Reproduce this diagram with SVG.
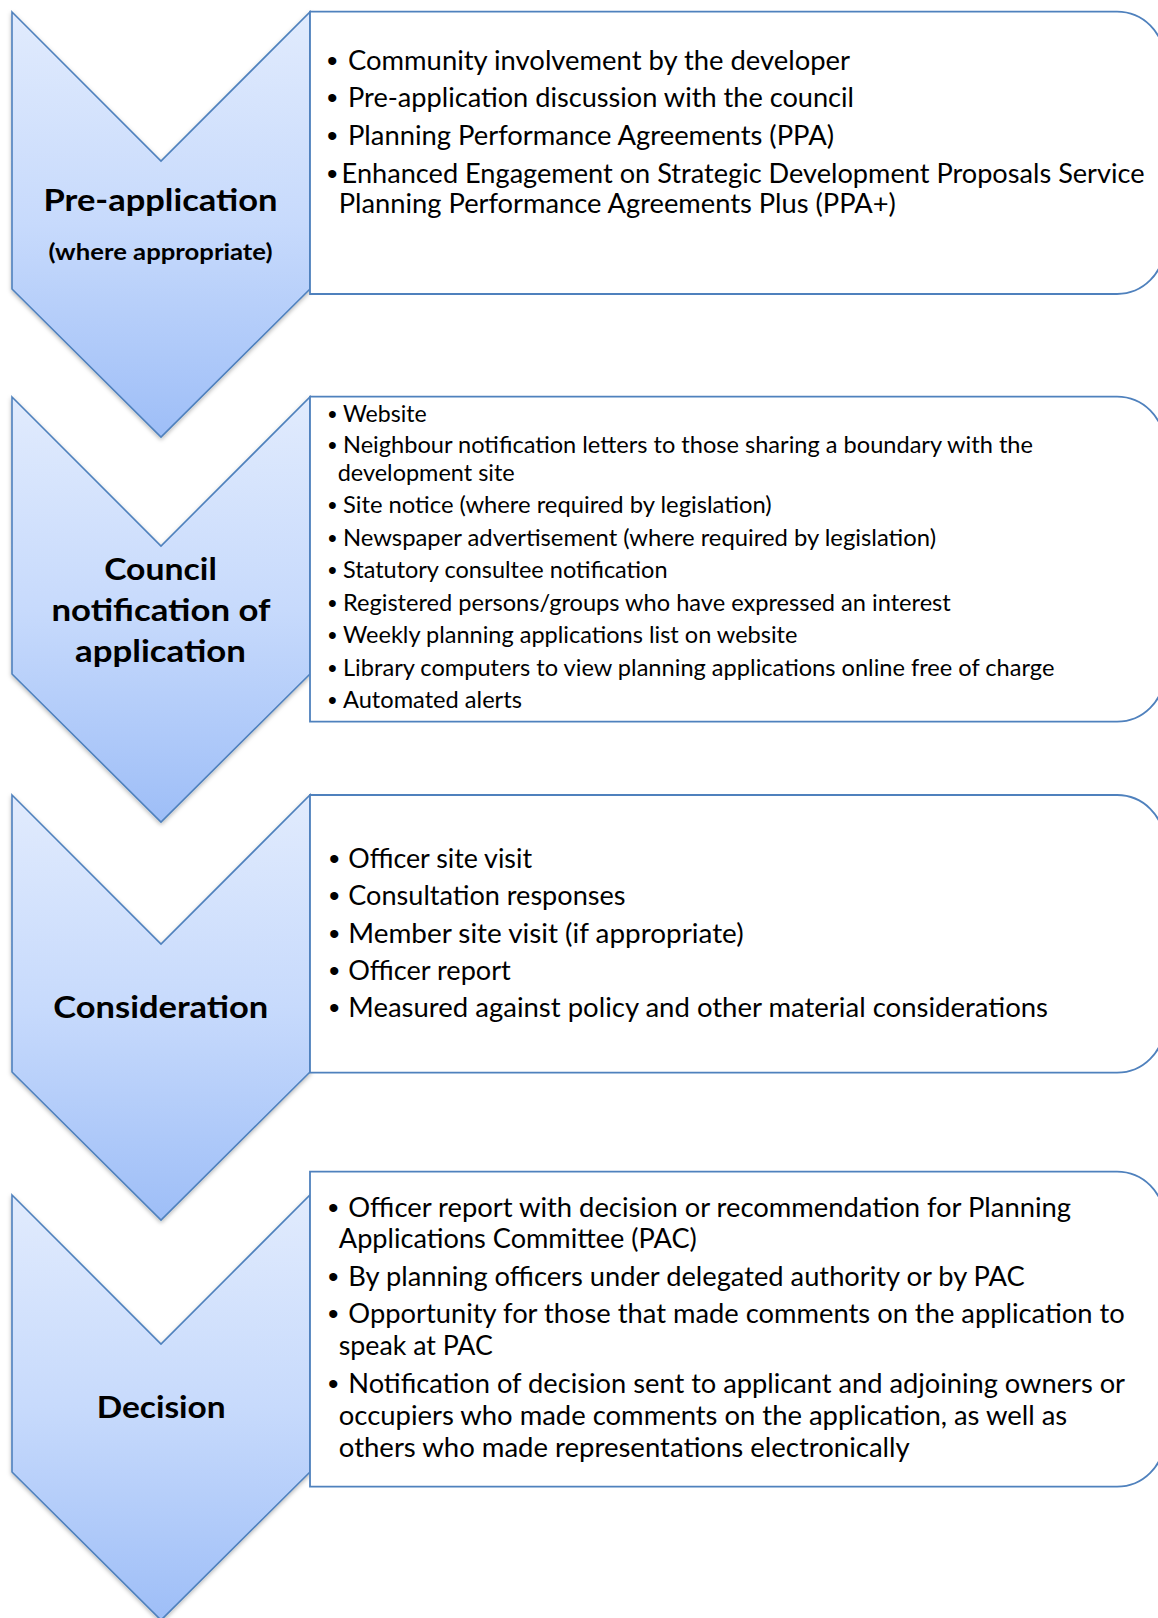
<svg xmlns="http://www.w3.org/2000/svg" width="1158" height="1618" viewBox="0 0 1158 1618">
<defs>
<linearGradient id="chevFill" x1="0" y1="0" x2="0" y2="1">
<stop offset="0" stop-color="#e1ebfd"/>
<stop offset="0.5" stop-color="#c7dafc"/>
<stop offset="1" stop-color="#9ebef7"/>
</linearGradient>
<filter id="shadow" x="-10%" y="-10%" width="120%" height="120%">
<feDropShadow dx="0" dy="2" stdDeviation="2" flood-color="#000" flood-opacity="0.28"/>
</filter>
</defs>
<style>
.chev{fill:url(#chevFill);stroke:#4f81bd;stroke-width:1.6;stroke-linejoin:miter;filter:url(#shadow)}
.box{fill:#ffffff;stroke:#4f81bd;stroke-width:1.8}
.title{font-family:Lato,"Liberation Sans",sans-serif;font-weight:bold;fill:#000;text-anchor:middle}
.t1{font-size:31px}
.t2{font-size:22px}
.body{font-family:Lato,"Liberation Sans",sans-serif;fill:#000}
.b26{font-size:26px}
.b22{font-size:22.5px}
.bul{font-family:"Liberation Sans",Arial,sans-serif;font-size:30px}
.bul2{font-family:"Liberation Sans",Arial,sans-serif;font-size:25px}
</style>

<g id="connectors"></g>

<g id="node-preapplication">
<path class="chev" d="M12,12 L161,161 L310,12 L310,289 L161,437 L12,289 Z"/>
<text class="title t1" x="160.5" y="211" textLength="234" lengthAdjust="spacingAndGlyphs">Pre-application</text>
<text class="title t2" x="160.5" y="260" textLength="224" lengthAdjust="spacingAndGlyphs">(where appropriate)</text>
</g>
<g id="box-preapplication">
<path class="box" d="M310,11.7 H1117 A47,47 0 0 1 1164,58.7 V247 A47,47 0 0 1 1117,294 H310 Z"/>
<g class="body b26">
<text class="bul" x="327" y="71">•</text><text x="348" y="70" textLength="502" lengthAdjust="spacingAndGlyphs">Community involvement by the developer</text>
<text class="bul" x="327" y="107.7">•</text><text x="348" y="106.7" textLength="506" lengthAdjust="spacingAndGlyphs">Pre-application discussion with the council</text>
<text class="bul" x="327" y="145.5">•</text><text x="348" y="144.5" textLength="486" lengthAdjust="spacingAndGlyphs">Planning Performance Agreements (PPA)</text>
<text class="bul" x="327" y="183.7">•</text><text x="341.6" y="182.7" textLength="803" lengthAdjust="spacingAndGlyphs">Enhanced Engagement on Strategic Development Proposals Service</text>
<text x="338.8" y="213" textLength="557" lengthAdjust="spacingAndGlyphs">Planning Performance Agreements Plus (PPA+)</text>
</g>
</g>

<g id="node-notification">
<path class="chev" d="M12,397 L161,546 L310,397 L310,674 L161,822 L12,674 Z"/>
<text class="title t1" x="160.5" y="580" textLength="112.7" lengthAdjust="spacingAndGlyphs">Council</text>
<text class="title t1" x="161" y="620.7" textLength="219" lengthAdjust="spacingAndGlyphs">notification of</text>
<text class="title t1" x="160.5" y="661.7" textLength="171" lengthAdjust="spacingAndGlyphs">application</text>
</g>
<g id="box-notification">
<path class="box" d="M310,396.7 H1117 A47,47 0 0 1 1164,443.7 V674.7 A47,47 0 0 1 1117,721.7 H310 Z"/>
<g class="body b22">
<text class="bul2" x="328" y="422.7">•</text><text x="343" y="421.7" textLength="83.7" lengthAdjust="spacingAndGlyphs">Website</text>
<text class="bul2" x="328" y="454.3">•</text><text x="343" y="453.3" textLength="690" lengthAdjust="spacingAndGlyphs">Neighbour notification letters to those sharing a boundary with the</text>
<text x="337.7" y="480.7" textLength="177" lengthAdjust="spacingAndGlyphs">development site</text>
<text class="bul2" x="328" y="514.3">•</text><text x="343" y="513.3" textLength="428.6" lengthAdjust="spacingAndGlyphs">Site notice (where required by legislation)</text>
<text class="bul2" x="328" y="547">•</text><text x="343" y="546" textLength="593" lengthAdjust="spacingAndGlyphs">Newspaper advertisement (where required by legislation)</text>
<text class="bul2" x="328" y="579.3">•</text><text x="343" y="578.3" textLength="324.5" lengthAdjust="spacingAndGlyphs">Statutory consultee notification</text>
<text class="bul2" x="328" y="611.7">•</text><text x="343" y="610.7" textLength="607.8" lengthAdjust="spacingAndGlyphs">Registered persons/groups who have expressed an interest</text>
<text class="bul2" x="328" y="644.3">•</text><text x="343" y="643.3" textLength="454.4" lengthAdjust="spacingAndGlyphs">Weekly planning applications list on website</text>
<text class="bul2" x="328" y="677">•</text><text x="343" y="676" textLength="711.4" lengthAdjust="spacingAndGlyphs">Library computers to view planning applications online free of charge</text>
<text class="bul2" x="328" y="709.3">•</text><text x="343" y="708.3" textLength="178.9" lengthAdjust="spacingAndGlyphs">Automated alerts</text>
</g>
</g>

<g id="node-consideration">
<path class="chev" d="M12,795 L161,944 L310,795 L310,1072 L161,1220 L12,1072 Z"/>
<text class="title t1" x="160.8" y="1018.3" textLength="215" lengthAdjust="spacingAndGlyphs">Consideration</text>
</g>
<g id="box-consideration">
<path class="box" d="M310,795 H1117 A47,47 0 0 1 1164,842 V1025.7 A47,47 0 0 1 1117,1072.7 H310 Z"/>
<g class="body b26">
<text class="bul" x="329" y="869.3">•</text><text x="348.3" y="868.3" textLength="183.7" lengthAdjust="spacingAndGlyphs">Officer site visit</text>
<text class="bul" x="329" y="906">•</text><text x="348.3" y="905" textLength="277.2" lengthAdjust="spacingAndGlyphs">Consultation responses</text>
<text class="bul" x="329" y="943.7">•</text><text x="348.3" y="942.7" textLength="395.3" lengthAdjust="spacingAndGlyphs">Member site visit (if appropriate)</text>
<text class="bul" x="329" y="981">•</text><text x="348.3" y="980" textLength="162.4" lengthAdjust="spacingAndGlyphs">Officer report</text>
<text class="bul" x="329" y="1018.3">•</text><text x="348.3" y="1017.3" textLength="699.7" lengthAdjust="spacingAndGlyphs">Measured against policy and other material considerations</text>
</g>
</g>

<g id="node-decision">
<path class="chev" d="M12,1195 L161,1344 L310,1195 L310,1472 L161,1620 L12,1472 Z"/>
<text class="title t1" x="161.2" y="1418.3" textLength="129" lengthAdjust="spacingAndGlyphs">Decision</text>
</g>
<g id="box-decision">
<path class="box" d="M310,1171.7 H1117 A47,47 0 0 1 1164,1218.7 V1439.7 A47,47 0 0 1 1117,1486.7 H310 Z"/>
<g class="body b26">
<text class="bul" x="328" y="1217.7">•</text><text x="348.3" y="1216.7" textLength="722.7" lengthAdjust="spacingAndGlyphs">Officer report with decision or recommendation for Planning</text>
<text x="338.8" y="1248.3" textLength="358" lengthAdjust="spacingAndGlyphs">Applications Committee (PAC)</text>
<text class="bul" x="328" y="1287">•</text><text x="348.3" y="1286" textLength="676.4" lengthAdjust="spacingAndGlyphs">By planning officers under delegated authority or by PAC</text>
<text class="bul" x="328" y="1324.3">•</text><text x="348.3" y="1323.3" textLength="776.5" lengthAdjust="spacingAndGlyphs">Opportunity for those that made comments on the application to</text>
<text x="338.8" y="1355" textLength="154" lengthAdjust="spacingAndGlyphs">speak at PAC</text>
<text class="bul" x="328" y="1394.3">•</text><text x="348.3" y="1393.3" textLength="776.7" lengthAdjust="spacingAndGlyphs">Notification of decision sent to applicant and adjoining owners or</text>
<text x="338.8" y="1425" textLength="728.4" lengthAdjust="spacingAndGlyphs">occupiers who made comments on the application, as well as</text>
<text x="338.8" y="1456.7" textLength="571" lengthAdjust="spacingAndGlyphs">others who made representations electronically</text>
</g>
</g>
</svg>
